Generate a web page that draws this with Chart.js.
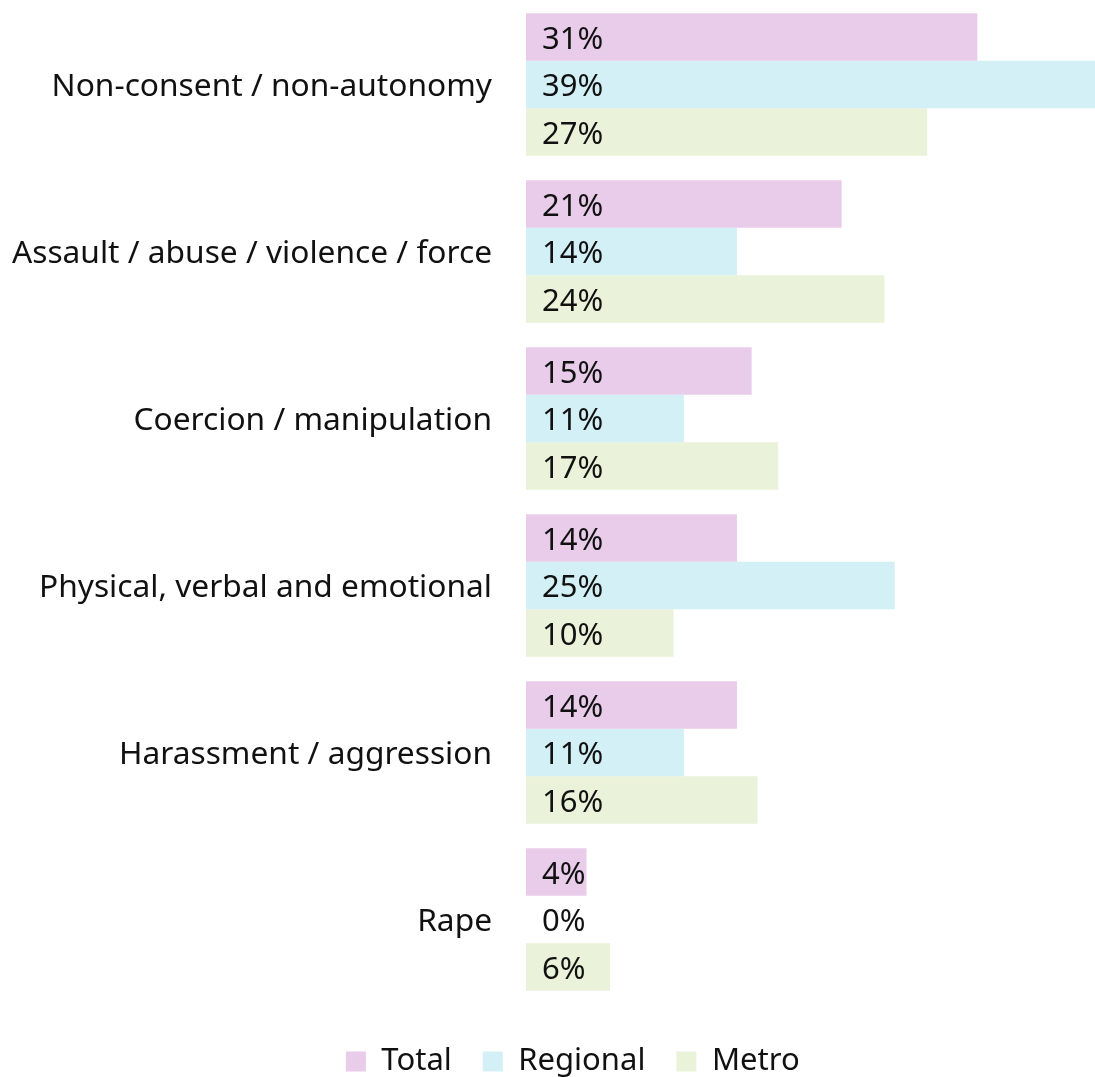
<!DOCTYPE html>
<html>
<head>
<meta charset="utf-8">
<script src="https://cdn.jsdelivr.net/npm/chart.js@4/dist/chart.umd.min.js"></script>
<style>
html,body{margin:0;padding:0;background:#fff;overflow:hidden;width:1095px;height:1077px;}
#wrap{position:relative;width:1152px;height:1087px;}
</style>
</head>
<body>
<div id="wrap"><canvas id="c"></canvas></div>
<script>
const categories = [
  "Non-consent / non-autonomy",
  "Assault / abuse / violence / force",
  "Coercion / manipulation",
  "Physical, verbal and emotional",
  "Harassment / aggression",
  "Rape"
];
const seriesNames = ["Total", "Regional", "Metro"];
const totalValues    = [30.6, 21.4, 15.3, 14.3, 14.3, 4.1];
const regionalValues = [39.0, 14.3, 10.7, 25.0, 10.7, 0];
const metroValues    = [27.2, 24.3, 17.1, 10.0, 15.7, 5.7];
const colors = ["#E8CCEA", "#D3F0F6", "#EAF2D9"];

const FONT = "'Noto Sans', 'Open Sans', sans-serif";
const TEXT = "#111111";

const valueLabels = {
  id: 'valueLabels',
  afterDatasetsDraw(chart) {
    const ctx = chart.ctx;
    const xs = chart.scales.x;
    ctx.save();
    ctx.font = "31px " + FONT;
    ctx.fillStyle = TEXT;
    ctx.textAlign = 'left';
    ctx.textBaseline = 'middle';
    chart.data.datasets.forEach((ds, di) => {
      const meta = chart.getDatasetMeta(di);
      meta.data.forEach((bar, i) => {
        const x0 = xs.getPixelForValue(0);
        ctx.fillText(Math.round(ds.data[i]) + "%", x0 + 16, bar.y + 3);
      });
    });
    ctx.restore();
  }
};

new Chart(document.getElementById('c'), {
  type: 'bar',
  data: {
    labels: categories,
    datasets: [
      { label: seriesNames[0], data: totalValues, backgroundColor: colors[0] },
      { label: seriesNames[1], data: regionalValues, backgroundColor: colors[1] },
      { label: seriesNames[2], data: metroValues, backgroundColor: colors[2] }
    ]
  },
  options: {
    indexAxis: 'y',
    responsive: true,
    maintainAspectRatio: false,
    animation: false,
    categoryPercentage: 0.854,
    barPercentage: 1.0,
    layout: { padding: { left: 0, right: 6.5, top: 1, bottom: 0 } },
    scales: {
      x: { display: false, min: 0, max: 42 },
      y: {
        grid: { display: false, drawTicks: false },
        border: { display: false },
        ticks: { color: TEXT, font: { family: FONT, size: 31.7 }, padding: 34, labelOffset: 2 },
        afterFit(scale) {
          scale.width = 526;
          scale.paddingTop = 0;
          scale.paddingBottom = 0;
        }
      }
    },
    plugins: {
      tooltip: { enabled: false },
      legend: {
        position: 'bottom',
        title: { display: true, text: ' ', font: { size: 5 }, padding: 3 },
        labels: {
          boxWidth: 20, boxHeight: 20, padding: 31,
          color: TEXT, font: { family: FONT, size: 31 }
        }
      }
    }
  },
  plugins: [valueLabels]
});
</script>
</body>
</html>
